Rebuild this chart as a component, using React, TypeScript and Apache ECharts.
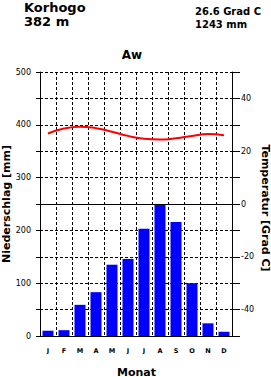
import React, { useEffect, useRef } from "react";
import * as echarts from "echarts";

const months = ["J", "F", "M", "A", "M", "J", "J", "A", "S", "O", "N", "D"];
const precipitation = [10, 11, 59, 83, 135, 146, 203, 249, 216, 100, 24, 8];
const temperature = [26.7, 28.6, 29.3, 28.7, 27.4, 25.8, 24.7, 24.4, 24.9, 25.8, 26.5, 26.0];
const stationName = "Korhogo";
const elevation = "382 m";
const meanTemp = "26.6 Grad C";
const totalPrecip = "1243 mm";
const climateClass = "Aw";

const FONT = "DejaVu Sans";

export default function App() {
  const ref = useRef<HTMLDivElement>(null);
  useEffect(() => {
    if (!ref.current) return;
    const chart = echarts.init(ref.current, undefined, { renderer: "svg" });
    const dash = [3, 2];
    chart.setOption({
      animation: false,
      backgroundColor: "#ffffff",
      grid: { left: 40, right: 39, top: 72, bottom: 41, containLabel: false },
      xAxis: {
        type: "category",
        data: months,
        boundaryGap: true,
        axisLine: { show: true, lineStyle: { color: "#000", width: 1 } },
        axisTick: { show: false },
        axisLabel: { color: "#000", fontSize: 6.5, fontWeight: "bold", fontFamily: FONT, margin: 11, interval: 0 },
        splitLine: { show: true, interval: 0, lineStyle: { color: "#000", type: dash, width: 1 } },
      },
      yAxis: [
        {
          type: "value",
          min: 0,
          max: 500,
          interval: 50,
          position: "left",
          axisLine: { show: true, lineStyle: { color: "#000", width: 1 } },
          axisTick: { show: true, length: 4, lineStyle: { color: "#000" } },
          axisLabel: {
            color: "#000",
            fontSize: 8,
            fontFamily: FONT,
            margin: 9,
            formatter: (v: number) => (v % 100 === 0 ? String(v) : ""),
          },
          splitLine: { show: true, lineStyle: { color: "#000", type: dash, width: 1 } },
        },
        {
          type: "value",
          min: -50,
          max: 50,
          interval: 10,
          position: "right",
          axisLine: { show: true, lineStyle: { color: "#000", width: 1 } },
          axisTick: { show: true, length: 8, lineStyle: { color: "#000" } },
          axisLabel: {
            color: "#000",
            fontSize: 8,
            fontFamily: FONT,
            margin: 9,
            formatter: (v: number) => (v % 20 === 0 && Math.abs(v) < 50 ? String(v) : ""),
          },
          splitLine: { show: false },
        },
      ],
      series: [
        {
          type: "bar",
          data: precipitation,
          yAxisIndex: 0,
          barWidth: 11,
          itemStyle: { color: "#0000ff" },
          markLine: {
            silent: true,
            symbol: "none",
            label: { show: false },
            lineStyle: { color: "#000", type: "solid", width: 1 },
            data: [{ yAxis: 250 }],
          },
        },
        {
          type: "line",
          data: temperature,
          yAxisIndex: 1,
          smooth: true,
          symbol: "none",
          lineStyle: { color: "#ff0000", width: 2 },
          z: 5,
        },
      ],
      graphic: [
        { type: "text", x: 24, y: 7.5, style: { text: stationName, font: `bold 13px "${FONT}"`, fill: "#000", textVerticalAlign: "middle" } },
        { type: "text", x: 24, y: 21.5, style: { text: elevation, font: `bold 13px "${FONT}"`, fill: "#000", textVerticalAlign: "middle" } },
        { type: "text", x: 195, y: 11.5, style: { text: meanTemp, font: `bold 10px "${FONT}"`, fill: "#000", textVerticalAlign: "middle" } },
        { type: "text", x: 195, y: 24, style: { text: totalPrecip, font: `bold 10px "${FONT}"`, fill: "#000", textVerticalAlign: "middle" } },
        { type: "text", x: 132, y: 54.5, style: { text: climateClass, font: `bold 12px "${FONT}"`, fill: "#000", textAlign: "center", textVerticalAlign: "middle" } },
        { type: "text", x: 136.5, y: 372, style: { text: "Monat", font: `bold 11px "${FONT}"`, fill: "#000", textAlign: "center", textVerticalAlign: "middle" } },
        {
          type: "text",
          x: 6,
          y: 204,
          rotation: Math.PI / 2,
          style: { text: "Niederschlag [mm]", font: `bold 11px "${FONT}"`, fill: "#000", textAlign: "center", textVerticalAlign: "middle" },
        },
        {
          type: "text",
          x: 265.5,
          y: 208,
          rotation: -Math.PI / 2,
          style: { text: "Temperatur [Grad C]", font: `bold 11px "${FONT}"`, fill: "#000", textAlign: "center", textVerticalAlign: "middle" },
        },
      ],
    });
    return () => chart.dispose();
  }, []);
  return <div ref={ref} style={{ position: "fixed", left: 0, top: 0, width: 271, height: 377 }} />;
}
